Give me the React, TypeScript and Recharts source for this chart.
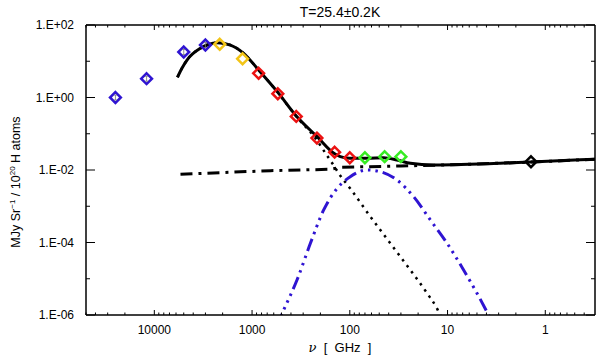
import React from 'react';
import { ComposedChart, Line, Scatter, XAxis, YAxis } from 'recharts';

// measured points (GHz, MJy/sr per 1e20 H)
const dirbeNu = [25000, 12000, 5000, 3000];
const dirbeV = [1.0, 3.3, 18, 28];
const dirbeLongNu = [2141, 1250];
const dirbeLongV = [29.4, 11.7];
const hfiNu = [857, 545, 353, 217, 143, 100];
const hfiV = [4.66, 1.27, 0.3, 0.076, 0.031, 0.0218];
const lfiNu = [70, 44, 30];
const lfiV = [0.0218, 0.0233, 0.0233];
const radioNu = [1.4];
const radioV = [0.0169];

// model curves
const totalNu = [5800, 5200, 4630, 3380, 2800, 2285, 1667, 1220, 869, 552, 353, 216, 143, 125, 100, 67, 45, 33, 24, 14, 2.9, 1.4, 0.31];
const totalV = [3.6, 6.5, 10.8, 22.7, 29, 32.5, 28, 16.6, 6.0, 1.45, 0.31, 0.083, 0.028, 0.0233, 0.021, 0.021, 0.0218, 0.0189, 0.0153, 0.0137, 0.0153, 0.0167, 0.0198];
const dustNu = [5800, 5200, 4630, 3380, 2800, 2285, 1667, 1220, 869, 552, 353, 216, 187, 143, 130, 99, 61.7, 38.5, 24, 16.2, 12.8, 11.9, 10];
const dustV = [3.6, 6.5, 10.8, 22.7, 29, 32.5, 28, 16.6, 6.0, 1.44, 0.3, 0.065, 0.036, 0.0122, 0.0081, 0.0031, 5.2e-4, 9.5e-5, 1.74e-5, 4e-6, 1.5e-6, 1e-6, 5e-7];
const ffNu = [5400, 650, 158, 125, 30, 10, 1.4, 0.31];
const ffV = [0.0076, 0.0096, 0.01045, 0.0119, 0.0129, 0.0138, 0.0165, 0.0198];
const ameNu = [560, 475, 347, 253, 185, 135, 99, 67, 48.7, 32.9, 22.2, 15, 10.1, 6.85, 5.0, 3.8, 3.0];
const ameV = [5e-7, 1.37e-6, 9.2e-6, 9.5e-5, 7.9e-4, 3.1e-3, 6.5e-3, 0.01, 9.0e-3, 5.3e-3, 1.83e-3, 4.2e-4, 9.5e-5, 1.74e-5, 4.0e-6, 1.0e-6, 3e-7];

const xMajor = [10000, 1000, 100, 10, 1];
const yMajor = [1e2, 1, 1e-2, 1e-4, 1e-6];

const zip = (nu: number[], v: number[]) => nu.map((n, i) => ({ nu: n, v: v[i] }));

const BLUE = '#2f14d2';
const YELLOW = '#f2c416';
const RED = '#ec1212';
const GREEN = '#36ec22';
const FONT = '"Liberation Sans", Arial, Helvetica, sans-serif';

const xTicks: number[] = [];
for (let e = -1; e <= 4; e++) {
  for (let m = 1; m <= 9; m++) {
    const v = parseFloat((m * Math.pow(10, e)).toPrecision(6));
    if (v >= 0.31 && v <= 50000) xTicks.push(v);
  }
}
const yTicks = [1e2, 1e1, 1, 1e-1, 1e-2, 1e-3, 1e-4, 1e-5, 1e-6];

const isMajorX = (v: number) => xMajor.some((m) => Math.abs(m - v) < 1e-9);
const isMajorY = (v: number) => yMajor.some((m) => Math.abs(Math.log10(m) - Math.log10(v)) < 1e-6);

const yLabel = (v: number) => {
  const e = Math.round(Math.log10(v));
  return `1.E${e >= 0 ? '+' : '-'}${String(Math.abs(e)).padStart(2, '0')}`;
};

const BottomTick = (props: any) => {
  const { x, y, payload } = props;
  const major = isMajorX(payload.value);
  return (
    <g>
      <line x1={x} x2={x} y1={y} y2={y - (major ? 5 : 2.5)} stroke="#000" strokeWidth={1} />
      {major && (
        <text x={x} y={y + 19} textAnchor="middle" fontSize={12} fontFamily={FONT} fill="#000">
          {String(payload.value)}
        </text>
      )}
    </g>
  );
};

const TopTick = (props: any) => {
  const { x, y, payload } = props;
  const major = isMajorX(payload.value);
  return <line x1={x} x2={x} y1={y} y2={y + (major ? 5 : 2.5)} stroke="#000" strokeWidth={1} />;
};

const LeftTick = (props: any) => {
  const { x, y, payload } = props;
  const major = isMajorY(payload.value);
  return (
    <g>
      <line x1={x} x2={x + (major ? 9 : 4)} y1={y} y2={y} stroke="#000" strokeWidth={1} />
      {major && (
        <text x={x - 12} y={y + 4} textAnchor="end" fontSize={12} fontFamily={FONT} fill="#000">
          {yLabel(payload.value)}
        </text>
      )}
    </g>
  );
};

const RightTick = (props: any) => {
  const { x, y, payload } = props;
  const major = isMajorY(payload.value);
  return <line x1={x} x2={x - (major ? 9 : 4)} y1={y} y2={y} stroke="#000" strokeWidth={1} />;
};

const diamond = (color: string, bar = false) => (p: any) => {
  const { cx, cy } = p;
  if (cx == null || cy == null) return <g />;
  const r = 5.4;
  return (
    <g>
      <path
        d={`M${cx},${cy - r}L${cx + r},${cy}L${cx},${cy + r}L${cx - r},${cy}Z`}
        fill="none"
        stroke={color}
        strokeWidth={2.5}
      />
      {bar && (
        <path
          d={`M${cx},${cy - 2.5}V${cy + 2.5}M${cx - 1.5},${cy - 2.5}H${cx + 1.5}M${cx - 1.5},${cy + 2.5}H${cx + 1.5}`}
          stroke="#777"
          strokeWidth={0.8}
          fill="none"
        />
      )}
    </g>
  );
};

const axisLine = { stroke: '#000', strokeWidth: 1.5 };

const App: React.FC = () => {
  return (
    <div style={{ position: 'absolute', left: 0, top: 0, width: 600, height: 361, background: '#fff' }}>
      <ComposedChart width={600} height={361} margin={{ top: 24, right: 4, bottom: 45, left: 85 }}>
        <XAxis
          dataKey="nu"
          type="number"
          scale="log"
          domain={[0.31, 50000]}
          reversed
          allowDataOverflow
          ticks={xTicks}
          interval={0}
          height={1}
          tickSize={0}
          tickMargin={0}
          tick={<BottomTick />}
          axisLine={axisLine}
          tickLine={false}
        />
        <XAxis
          xAxisId="top"
          orientation="top"
          dataKey="nu"
          type="number"
          scale="log"
          domain={[0.31, 50000]}
          reversed
          allowDataOverflow
          ticks={xTicks}
          interval={0}
          height={1}
          tickSize={0}
          tickMargin={0}
          tick={<TopTick />}
          axisLine={axisLine}
          tickLine={false}
        />
        <YAxis
          dataKey="v"
          type="number"
          scale="log"
          domain={[1e-6, 100]}
          allowDataOverflow
          ticks={yTicks}
          interval={0}
          width={1}
          tickSize={0}
          tickMargin={0}
          tick={<LeftTick />}
          axisLine={axisLine}
          tickLine={false}
        />
        <YAxis
          yAxisId="r"
          orientation="right"
          dataKey="v"
          type="number"
          scale="log"
          domain={[1e-6, 100]}
          allowDataOverflow
          ticks={yTicks}
          interval={0}
          width={1}
          tickSize={0}
          tickMargin={0}
          tick={<RightTick />}
          axisLine={axisLine}
          tickLine={false}
        />

        <Line data={zip(dustNu, dustV)} dataKey="v" type="monotone" stroke="#000" strokeWidth={2.5} strokeDasharray="2.5 5" dot={false} activeDot={false} isAnimationActive={false} />
        <Line data={zip(ameNu, ameV)} dataKey="v" type="monotone" stroke={BLUE} strokeWidth={3} strokeDasharray="13 5 2.5 5 2.5 5 2.5 5" dot={false} activeDot={false} isAnimationActive={false} />
        <Line data={zip(ffNu, ffV)} dataKey="v" type="linear" stroke="#000" strokeWidth={3} strokeDasharray="12 6 3 6" dot={false} activeDot={false} isAnimationActive={false} />
        <Line data={zip(totalNu, totalV)} dataKey="v" type="monotone" stroke="#000" strokeWidth={3} dot={false} activeDot={false} isAnimationActive={false} />

        <Scatter data={zip(dirbeNu, dirbeV)} dataKey="v" shape={diamond(BLUE, true)} isAnimationActive={false} />
        <Scatter data={zip(dirbeLongNu, dirbeLongV)} dataKey="v" shape={diamond(YELLOW)} isAnimationActive={false} />
        <Scatter data={zip(hfiNu, hfiV)} dataKey="v" shape={diamond(RED)} isAnimationActive={false} />
        <Scatter data={zip(lfiNu, lfiV)} dataKey="v" shape={diamond(GREEN)} isAnimationActive={false} />
        <Scatter data={zip(radioNu, radioV)} dataKey="v" shape={diamond('#000')} isAnimationActive={false} />
      </ComposedChart>

      <svg width={600} height={361} style={{ position: 'absolute', left: 0, top: 0, pointerEvents: 'none' }}>
        <text x={340} y={17} textAnchor="middle" fontSize={14} fontFamily={FONT} fill="#000">
          T=25.4±0.2K
        </text>
        <text x={340} y={352} textAnchor="middle" fontSize={13} fontFamily={FONT} fill="#000" xmlSpace="preserve">
          <tspan fontStyle="italic" fontFamily="'DejaVu Serif', serif">ν</tspan>
          <tspan>{'  [  GHz  ]'}</tspan>
        </text>
        <text
          x={20}
          y={182}
          transform="rotate(-90 20 182)"
          textAnchor="middle"
          fontSize={12.5}
          fontFamily={FONT}
          fill="#000"
        >
          MJy Sr<tspan dy={-5} fontSize={8}>−1</tspan>
          <tspan dy={5}> / 10</tspan>
          <tspan dy={-5} fontSize={8}>20</tspan>
          <tspan dy={5}> H atoms</tspan>
        </text>
      </svg>
    </div>
  );
};

export default App;
